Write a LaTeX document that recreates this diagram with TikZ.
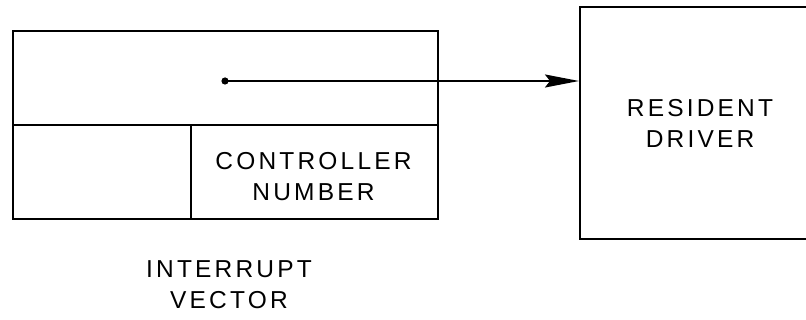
\documentclass[tikz,border=0pt]{standalone}
\usepackage{fontspec}
\setmainfont{Liberation Sans}[LetterSpace=13]
\usetikzlibrary{arrows.meta}
\begin{document}
\begin{tikzpicture}[x=1pt,y=-1pt,
  cell/.style={draw,line width=2.2pt,inner sep=0pt,anchor=north west},
  lbl/.style={font=\fontsize{24.5}{31}\selectfont,align=center,inner sep=0pt},
  conn/.style={line width=2pt,-{Stealth[length=34pt,width=13pt,inset=5pt]}}]
\useasboundingbox (0,0) rectangle (806,320);
\clip (0,0) rectangle (806,320);
\node[cell,minimum width=425pt,minimum height=94pt] (top) at (12,30) {};
\node[cell,minimum width=178pt,minimum height=94pt] (bl) at (12,124) {};
\node[cell,minimum width=247pt,minimum height=94pt] (br) at (190,124) {};
\node[cell,minimum width=260pt,minimum height=232pt] (drv) at (579,6) {};
\node[lbl] (cn) at (313.5,177) {CONTROLLER\\NUMBER};
\node[lbl] (rd) at (700,123) {RESIDENT\\DRIVER};
\node[lbl] (iv) at (229,285) {INTERRUPT\\VECTOR};
\coordinate (dot) at (225,81);
\fill (dot) circle (3.6pt);
\draw[conn] (dot) -- (dot -| drv.west);
\end{tikzpicture}
\end{document}
